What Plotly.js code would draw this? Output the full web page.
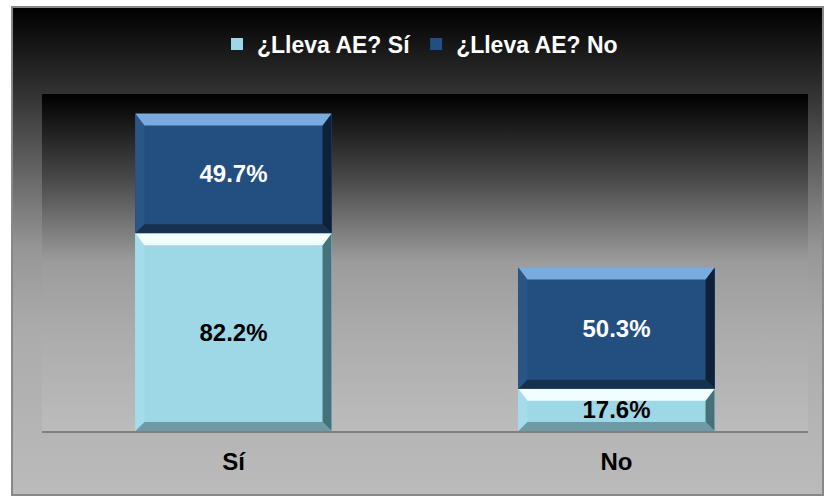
<!DOCTYPE html>
<html>
<head>
<meta charset="utf-8">
<script src="https://cdn.plot.ly/plotly-3.0.1.min.js"></script>
<style>
  html, body { margin: 0; padding: 0; background: #ffffff; }
  #chart { width: 825px; height: 496px; }
</style>
</head>
<body>
<div id="chart"></div>
<script>
// ---- data ----
const categories = ['Sí', 'No'];
const seriesNames = ['¿Lleva AE? Sí', '¿Lleva AE? No'];
const valuesSi = [82.2, 17.6];   // ¿Lleva AE? Sí
const valuesNo = [49.7, 50.3];   // ¿Lleva AE? No

// ---- geometry / styles ----
const W = 825, H = 496;
const M = { l: 42, r: 17, t: 94, b: 65 };
const plotW = W - M.l - M.r, plotH = H - M.t - M.b;
const xRange = [-0.5, categories.length - 0.5];
const yRange = [0, 140];
const barWidth = 0.512;
const bevel = { top: 12, bottom: 9, side: 9 };

const styles = [
  { main: '#9ed8e6', top: '#f2fdff', bottom: '#6e9aa5', left: '#a4dcea', right: '#46707a', text: '#000000' },
  { main: '#234e80', top: '#79abdf', bottom: '#16304f', left: '#2a5587', right: '#0f2138', text: '#ffffff' }
];

const xIdx = categories.map((c, i) => i);
const seriesVals = [valuesSi, valuesNo];

const traces = seriesVals.map((vals, s) => ({
  type: 'bar',
  name: seriesNames[s],
  x: xIdx,
  y: vals,
  width: barWidth,
  marker: { color: styles[s].main, line: { width: 0 } },
  texttemplate: '%{y:.1f}%',
  textposition: 'inside',
  insidetextanchor: 'middle',
  textangle: 0,
  constraintext: 'none',
  textfont: { family: 'Liberation Sans, Arial, sans-serif', size: 24, weight: 'bold', color: styles[s].text },
  hoverinfo: 'skip'
}));

// bevel shapes, computed from the data through the axis scales
const bx = bevel.side * (xRange[1] - xRange[0]) / plotW;
const byT = bevel.top * (yRange[1] - yRange[0]) / plotH;
const byB = bevel.bottom * (yRange[1] - yRange[0]) / plotH;
const shapes = [];
xIdx.forEach((xc, i) => {
  let base = 0;
  seriesVals.forEach((vals, s) => {
    const x0 = xc - barWidth / 2, x1 = xc + barWidth / 2;
    const y0 = base, y1 = base + vals[i];
    base = y1;
    const st = styles[s];
    const mk = (d, c) => shapes.push({ type: 'path', xref: 'x', yref: 'y', path: d, fillcolor: c, line: { width: 0 }, layer: 'above' });
    mk(`M${x0},${y0} L${x0},${y1} L${x0 + bx},${y1 - byT} L${x0 + bx},${y0 + byB} Z`, st.left);
    mk(`M${x1},${y0} L${x1},${y1} L${x1 - bx},${y1 - byT} L${x1 - bx},${y0 + byB} Z`, st.right);
    mk(`M${x0},${y1} L${x1},${y1} L${x1 - bx},${y1 - byT} L${x0 + bx},${y1 - byT} Z`, st.top);
    mk(`M${x0},${y0} L${x1},${y0} L${x1 - bx},${y0 + byB} L${x0 + bx},${y0 + byB} Z`, st.bottom);
  });
});

// background gradients
function gradSvg(stops) {
  const st = stops.map(s => `<stop offset="${s[0]}" stop-color="${s[1]}"/>`).join('');
  const svg = `<svg xmlns="http://www.w3.org/2000/svg" width="100" height="100" viewBox="0 0 100 100" preserveAspectRatio="none"><defs><linearGradient id="g" x1="0" y1="0" x2="0" y2="1">${st}</linearGradient></defs><rect x="0" y="0" width="100" height="100" fill="url(#g)"/></svg>`;
  return 'data:image/svg+xml;charset=utf-8,' + encodeURIComponent(svg);
}
const outer = { x0: 12, x1: 823, y0: 7, y1: 495 };
const px2x = p => (p - M.l) / plotW;
const px2y = p => 1 - (p - M.t) / plotH;

const images = [
  {
    source: gradSvg([[0, '#000000'], [0.18, '#333333'], [0.5, '#979797'], [0.66, '#ababab'], [1, '#bbbbbb']]),
    xref: 'paper', yref: 'paper',
    x: px2x(outer.x0), y: px2y(outer.y0),
    sizex: (outer.x1 - outer.x0) / plotW, sizey: (outer.y1 - outer.y0) / plotH,
    xanchor: 'left', yanchor: 'top', sizing: 'stretch', layer: 'below'
  },
  {
    source: gradSvg([[0, '#000000'], [0.25, '#484848'], [0.5, '#9c9c9c'], [0.7, '#ababab'], [1, '#bcbcbc']]),
    xref: 'paper', yref: 'paper',
    x: 0, y: 1, sizex: 1, sizey: 1,
    xanchor: 'left', yanchor: 'top', sizing: 'stretch', layer: 'below'
  }
];

shapes.unshift({
  type: 'rect', xref: 'paper', yref: 'paper', layer: 'below',
  x0: px2x(outer.x0), x1: px2x(outer.x1), y0: px2y(outer.y1), y1: px2y(outer.y0),
  line: { color: '#888888', width: 2 }, fillcolor: 'rgba(0,0,0,0)'
});

const layout = {
  width: W, height: H,
  margin: M,
  paper_bgcolor: '#ffffff',
  plot_bgcolor: 'rgba(0,0,0,0)',
  barmode: 'stack',
  showlegend: true,
  legend: {
    orientation: 'h',
    x: px2x(420), xanchor: 'center',
    y: px2y(44), yanchor: 'middle',
    bgcolor: 'rgba(0,0,0,0)',
    font: { family: 'Liberation Sans, Arial, sans-serif', size: 23, weight: 'bold', color: '#ffffff' },
    traceorder: 'normal'
  },
  xaxis: {
    type: 'linear',
    range: xRange,
    tickvals: xIdx,
    ticktext: categories,
    showgrid: false, zeroline: false,
    showline: true, linecolor: '#808080', linewidth: 2,
    ticks: '',
    ticklabelstandoff: 8,
    tickfont: { family: 'Liberation Sans, Arial, sans-serif', size: 24, weight: 'bold', color: '#000000' },
    fixedrange: true
  },
  yaxis: {
    range: yRange,
    showgrid: false, zeroline: false, showline: false,
    showticklabels: false, ticks: '',
    fixedrange: true
  },
  shapes: shapes,
  images: images
};

Plotly.newPlot('chart', traces, layout, { displayModeBar: false, staticPlot: true });
</script>
</body>
</html>
